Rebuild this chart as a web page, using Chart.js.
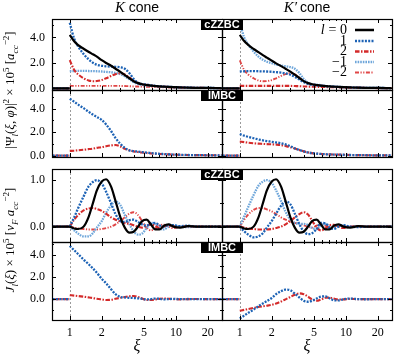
<!DOCTYPE html>
<html>
<head>
<meta charset="utf-8">
<script src="https://cdn.jsdelivr.net/npm/chart.js@4.4.1/dist/chart.umd.min.js"></script>
<style>
  body { margin: 0; background: #fff; }
  #wrap { position: relative; width: 395px; height: 361px; overflow: hidden; font-family: "Liberation Serif", serif; color: #000; }
  #wrap canvas { position: absolute; left: 0; top: 0; }
  .tag { position: absolute; left: 201px; width: 42px; height: 11px; background: #000; color: #fff; z-index: 5;
         font: bold 11px "Liberation Sans", sans-serif; line-height: 11px; text-align: center; }
  .title { position: absolute; top: -1px; width: 170px; text-align: center; font-size: 15px; z-index: 5; }
  .title span { font-family: "Liberation Sans", sans-serif; font-size: 14px; }
  .xlab { position: absolute; top: 337px; width: 170px; text-align: center; font-style: italic; font-size: 16px; z-index: 5; }
  .ylab { position: absolute; height: 18px; line-height: 18px; white-space: nowrap; text-align: center;
          transform: rotate(-90deg); font-size: 13px; z-index: 5; }
  .ylab sub, .ylab sup { font-size: 70%; line-height: 0; }
</style>
</head>
<body>
<div id="wrap">
  <div class="title" style="left:52px"><i>K</i> <span>cone</span></div>
  <div class="title" style="left:222px"><i>K′</i>&thinsp;<span>cone</span></div>
  <div class="tag" style="top:19px">cZZBC</div>
  <div class="tag" style="top:90px">IMBC</div>
  <div class="tag" style="top:169px">cZZBC</div>
  <div class="tag" style="top:242px">IMBC</div>
  <div class="ylab" style="left:-72px; top:81px; width:164px">|Ψ<sub><i>l</i></sub>(<i>ξ</i>, <i>φ</i>)|<sup>2</sup> × 10<sup>5</sup> [<i>a</i><sub><i>cc</i></sub><sup>−2</sup>]</div>
  <div class="ylab" style="left:-72px; top:231px; width:164px"><i>J</i><sub><i>l</i></sub>(<i>ξ</i>) × 10<sup>5</sup> [<i>v<sub>F</sub></i> <i>a</i><sub><i>cc</i></sub><sup>−2</sup>]</div>
  <div class="xlab" style="left:52px">ξ</div>
  <div class="xlab" style="left:222px">ξ</div>
</div>
<script>
// radial coordinate xi (shared grid for every curve)
const XI = [1, 1.1, 1.2, 1.35, 1.5, 1.65, 1.8, 2.0, 2.2, 2.45, 2.7, 3.0, 3.3, 3.65, 4.0, 4.4, 4.8, 5.3, 5.8, 6.4, 7.0, 7.7, 8.5, 9.5, 11, 13, 16, 20, 27];

// |Psi|^2, cZZBC, K cone
const psiZZ_K_l0  = [4.2, 3.7, 3.4, 3.12, 2.88, 2.68, 2.5, 2.22, 2.0, 1.78, 1.55, 1.3, 1.05, 0.8, 0.57, 0.42, 0.33, 0.27, 0.22, 0.19, 0.16, 0.14, 0.12, 0.1, 0.08, 0.06, 0.05, 0.04, 0.03];
const psiZZ_K_l1  = [5.15, 3.9, 3.3, 2.7, 2.3, 2.02, 1.86, 1.78, 1.74, 1.72, 1.7, 1.66, 1.55, 1.2, 0.75, 0.45, 0.35, 0.3, 0.25, 0.2, 0.17, 0.15, 0.13, 0.11, 0.09, 0.07, 0.05, 0.04, 0.03];
const psiZZ_K_l2  = [2.22, 1.45, 1.1, 0.8, 0.63, 0.57, 0.58, 0.66, 0.8, 0.98, 1.12, 1.2, 1.1, 0.85, 0.6, 0.42, 0.33, 0.28, 0.24, 0.2, 0.17, 0.15, 0.12, 0.1, 0.08, 0.06, 0.05, 0.04, 0.03];
const psiZZ_K_lm1 = [1.36, 1.37, 1.38, 1.38, 1.37, 1.36, 1.35, 1.33, 1.3, 1.27, 1.22, 1.12, 0.95, 0.72, 0.5, 0.35, 0.28, 0.24, 0.21, 0.18, 0.16, 0.14, 0.12, 0.1, 0.08, 0.06, 0.05, 0.04, 0.03];
const psiZZ_K_lm2 = [0.2, 0.2, 0.2, 0.2, 0.2, 0.2, 0.2, 0.2, 0.2, 0.2, 0.2, 0.2, 0.19, 0.18, 0.16, 0.15, 0.14, 0.13, 0.12, 0.11, 0.1, 0.09, 0.08, 0.07, 0.06, 0.05, 0.04, 0.03, 0.02];

// |Psi|^2, cZZBC, K' cone
const psiZZ_Kp_l0  = [4.2, 3.72, 3.42, 3.1, 2.85, 2.62, 2.42, 2.18, 1.97, 1.75, 1.55, 1.32, 1.08, 0.82, 0.58, 0.42, 0.33, 0.27, 0.22, 0.19, 0.16, 0.14, 0.12, 0.1, 0.08, 0.06, 0.05, 0.04, 0.03];
const psiZZ_Kp_l1  = [1.34, 1.35, 1.36, 1.36, 1.35, 1.34, 1.33, 1.31, 1.28, 1.24, 1.18, 1.08, 0.92, 0.7, 0.5, 0.35, 0.28, 0.24, 0.21, 0.18, 0.16, 0.14, 0.12, 0.1, 0.08, 0.06, 0.05, 0.04, 0.03];
const psiZZ_Kp_l2  = [0.2, 0.2, 0.2, 0.2, 0.2, 0.2, 0.2, 0.2, 0.2, 0.2, 0.2, 0.2, 0.19, 0.18, 0.16, 0.15, 0.14, 0.13, 0.12, 0.11, 0.1, 0.09, 0.08, 0.07, 0.06, 0.05, 0.04, 0.03, 0.02];
const psiZZ_Kp_lm1 = [5.2, 4.0, 3.45, 2.9, 2.5, 2.25, 2.1, 1.98, 1.88, 1.8, 1.74, 1.68, 1.55, 1.2, 0.75, 0.45, 0.35, 0.3, 0.25, 0.2, 0.17, 0.15, 0.13, 0.11, 0.09, 0.07, 0.05, 0.04, 0.03];
const psiZZ_Kp_lm2 = [2.2, 1.45, 1.1, 0.8, 0.63, 0.57, 0.58, 0.66, 0.8, 0.98, 1.12, 1.2, 1.1, 0.85, 0.6, 0.42, 0.33, 0.28, 0.24, 0.2, 0.17, 0.15, 0.12, 0.1, 0.08, 0.06, 0.05, 0.04, 0.03];

// |Psi|^2, IMBC
const psiIM_K_l1  = [4.85, 4.6, 4.35, 4.05, 3.75, 3.5, 3.3, 3.05, 2.65, 2.1, 1.5, 1.0, 0.65, 0.45, 0.38, 0.34, 0.3, 0.26, 0.22, 0.18, 0.15, 0.13, 0.11, 0.09, 0.07, 0.05, 0.04, 0.03, 0.02];
const psiIM_K_l2  = [0.4, 0.42, 0.45, 0.5, 0.55, 0.6, 0.66, 0.72, 0.8, 0.87, 0.9, 0.78, 0.58, 0.45, 0.36, 0.3, 0.26, 0.22, 0.19, 0.16, 0.14, 0.12, 0.1, 0.08, 0.06, 0.05, 0.04, 0.03, 0.02];
const psiIM_Kp_l1 = [1.84, 1.7, 1.6, 1.48, 1.38, 1.3, 1.24, 1.18, 1.12, 1.06, 0.95, 0.8, 0.62, 0.48, 0.36, 0.27, 0.21, 0.17, 0.14, 0.12, 0.1, 0.09, 0.08, 0.07, 0.05, 0.04, 0.03, 0.02, 0.02];
const psiIM_Kp_l2 = [1.2, 1.15, 1.1, 1.05, 1.02, 1.0, 0.98, 0.96, 0.94, 0.9, 0.82, 0.72, 0.6, 0.48, 0.36, 0.27, 0.21, 0.17, 0.14, 0.12, 0.1, 0.09, 0.08, 0.07, 0.05, 0.04, 0.03, 0.02, 0.02];

// current J, cZZBC, K cone
const jZZ_K_l0  = [0, -0.04, -0.05, 0.0, 0.2, 0.5, 0.78, 0.97, 1.02, 0.86, 0.55, 0.2, -0.02, -0.13, -0.11, 0.0, 0.12, 0.15, 0.05, -0.06, -0.06, 0.02, 0.05, 0.0, -0.02, 0.01, 0, 0, 0];
const jZZ_K_l1  = [0, 0.2, 0.4, 0.65, 0.86, 0.96, 1.0, 0.93, 0.75, 0.5, 0.27, 0.12, 0.1, 0.14, 0.15, 0.1, 0.05, 0.02, 0.06, 0.08, 0.03, 0.0, 0.04, 0.03, 0.01, 0.02, 0, 0, 0];
const jZZ_K_l2  = [0, 0.15, 0.25, 0.35, 0.39, 0.4, 0.38, 0.34, 0.28, 0.2, 0.15, 0.11, 0.08, 0.06, 0.03, 0.0, -0.02, 0.02, 0.05, 0.02, -0.03, 0.0, 0.03, 0.01, -0.01, 0.01, 0, 0, 0];
const jZZ_K_lm1 = [0, -0.08, -0.15, -0.21, -0.21, -0.14, -0.02, 0.12, 0.3, 0.46, 0.54, 0.46, 0.25, 0.05, -0.1, -0.17, -0.15, -0.03, 0.08, 0.06, -0.04, -0.06, 0.0, 0.03, 0.0, -0.01, 0, 0, 0];
const jZZ_K_lm2 = [0, -0.02, -0.04, -0.05, -0.06, -0.06, -0.06, -0.05, -0.03, 0.0, 0.05, 0.12, 0.2, 0.28, 0.31, 0.25, 0.12, -0.02, -0.08, -0.04, 0.03, 0.04, 0.0, -0.03, 0.0, 0.01, 0, 0, 0];

// current J, cZZBC, K' cone
const jZZ_Kp_l0  = [0, -0.04, -0.05, 0.0, 0.2, 0.5, 0.78, 0.97, 1.02, 0.86, 0.55, 0.2, -0.02, -0.13, -0.11, 0.0, 0.12, 0.15, 0.05, -0.06, -0.06, 0.02, 0.05, 0.0, -0.02, 0.01, 0, 0, 0];
const jZZ_Kp_l1  = [0, -0.1, -0.17, -0.23, -0.21, -0.14, -0.02, 0.12, 0.28, 0.45, 0.54, 0.48, 0.28, 0.05, -0.1, -0.16, -0.14, -0.05, 0.08, 0.07, -0.02, -0.05, 0.0, 0.03, 0.0, -0.01, 0, 0, 0];
const jZZ_Kp_l2  = [0, -0.02, -0.04, -0.05, -0.06, -0.06, -0.06, -0.05, -0.03, 0.0, 0.05, 0.12, 0.2, 0.27, 0.31, 0.26, 0.13, -0.02, -0.08, -0.04, 0.03, 0.04, 0.0, -0.03, 0.0, 0.01, 0, 0, 0];
const jZZ_Kp_lm1 = [0, 0.22, 0.42, 0.68, 0.88, 0.97, 1.0, 0.94, 0.78, 0.55, 0.32, 0.15, 0.08, 0.06, 0.06, 0.03, -0.03, -0.05, 0.02, 0.06, 0.02, -0.02, 0.02, 0.02, 0.0, 0.01, 0, 0, 0];
const jZZ_Kp_lm2 = [0, 0.15, 0.26, 0.36, 0.4, 0.4, 0.37, 0.33, 0.27, 0.2, 0.15, 0.11, 0.08, 0.06, 0.03, 0.0, -0.02, 0.02, 0.05, 0.02, -0.03, 0.0, 0.03, 0.01, -0.01, 0.01, 0, 0, 0];

// current J, IMBC
const jIM_K_l1  = [4.85, 4.45, 4.1, 3.6, 3.2, 2.8, 2.4, 1.85, 1.45, 0.9, 0.45, 0.2, 0.15, 0.12, 0.1, 0.07, 0.03, -0.03, 0.0, 0.05, 0.03, -0.02, 0.0, 0.02, 0.0, 0.01, 0, 0, 0];
const jIM_K_l2  = [0.36, 0.32, 0.28, 0.22, 0.16, 0.1, 0.03, -0.03, -0.08, -0.06, 0.03, 0.12, 0.2, 0.26, 0.28, 0.2, 0.05, -0.08, -0.08, -0.03, 0.02, 0.06, 0.04, 0.0, -0.02, 0.0, 0.01, 0, 0];
const jIM_Kp_l1 = [-1.76, -1.5, -1.25, -0.95, -0.65, -0.4, -0.18, 0.1, 0.45, 0.72, 0.87, 0.8, 0.5, 0.15, -0.15, -0.24, -0.15, 0.06, 0.22, 0.25, 0.08, -0.1, -0.12, 0.0, 0.05, 0.0, -0.01, 0, 0];
const jIM_Kp_l2 = [-1.06, -0.98, -0.9, -0.8, -0.72, -0.65, -0.6, -0.52, -0.4, -0.22, -0.02, 0.2, 0.4, 0.52, 0.45, 0.22, -0.02, -0.15, -0.05, 0.12, 0.14, 0.05, -0.03, -0.02, 0.02, 0.0, 0, 0, 0];

// axis ticks
const X_LABELS = [1, 2, 5, 10, 20];
const X_MARKS = [1, 2, 3, 4, 5, 6, 7, 8, 9, 10, 20];
const PSI_TICKS = [0, 1, 2, 3, 4, 5];
const PSI_LABELS = [0, 2, 4];
const JZZ_TICKS = [0, 0.5, 1];
const JZZ_LABELS = [0, 1];
const JIM_TICKS = [-1, 0, 1, 2, 3, 4, 5];
const JIM_LABELS = [0, 2, 4];

const LEGEND_LABELS = ['= 0', '1', '2', '−1', '−2'];

const W = 395, H = 361;
const SERIF = '"Liberation Serif", serif';
const XMIN = 0.68, XMAX = 27.2;

const STYLE = {
  l0:  { label: '0',  color: '#000000', dash: [], width: 2.2 },
  l1:  { label: '1',  color: '#1c62b5', dash: [2, 1.3], width: 2.3 },
  l2:  { label: '2',  color: '#d42a2a', dash: [4.5, 1.5, 1.5, 1.5], width: 2.1 },
  lm1: { label: '-1', color: '#6ea6da', dash: [1.6, 1], width: 2.3 },
  lm2: { label: '-2', color: '#e04646', dash: [4, 1.5, 1.2, 1.5, 1.2, 1.5], width: 1.9 },
};

const COLS = [{ l: 52, r: 222 }, { l: 222, r: 392 }];
const ROWS = [
  { t: 19,  b: 90,  min: -0.12, max: 5.45, ticks: PSI_TICKS, labels: PSI_LABELS },
  { t: 90,  b: 157, min: -0.12, max: 5.6,  ticks: PSI_TICKS, labels: PSI_LABELS },
  { t: 169, b: 242, min: -0.33, max: 1.24, ticks: JZZ_TICKS, labels: JZZ_LABELS },
  { t: 242, b: 320, min: -1.9,  max: 5.2,  ticks: JIM_TICKS, labels: JIM_LABELS },
];

function makeSet(key, vals) {
  const s = STYLE[key];
  // zero inside the hole (xi < 1), then a break before the curve starts
  const pts = [{ x: 0.6, y: 0 }, { x: 0.999, y: 0 }, { x: 0.9995, y: null }]
    .concat(XI.map((x, i) => ({ x: x, y: vals[i] })));
  return {
    label: s.label, data: pts, borderColor: s.color, borderDash: s.dash, borderWidth: s.width,
    fill: false, pointRadius: 0, clip: 0, spanGaps: false, cubicInterpolationMode: 'monotone'
  };
}

// frame, inward ticks, dashed line at xi = 1
const framePlugin = {
  id: 'frame',
  beforeDatasetsDraw(chart) {
    const { ctx, chartArea: a, scales: { x } } = chart;
    const px = Math.round(x.getPixelForValue(1)) + 0.5;
    ctx.save();
    ctx.strokeStyle = '#9a9a9a';
    ctx.lineWidth = 1;
    ctx.setLineDash([2, 2]);
    ctx.beginPath(); ctx.moveTo(px, a.top); ctx.lineTo(px, a.bottom); ctx.stroke();
    ctx.restore();
  },
  afterDatasetsDraw(chart, args, opts) {
    const { ctx, chartArea: a, scales: { x, y } } = chart;
    ctx.save();
    ctx.strokeStyle = '#000';
    ctx.lineWidth = 1;
    ctx.beginPath();
    X_MARKS.forEach(v => {
      const px = Math.round(x.getPixelForValue(v)) + 0.5;
      const len = X_LABELS.includes(v) ? 4 : 2;
      ctx.moveTo(px, a.top); ctx.lineTo(px, a.top + len);
      ctx.moveTo(px, a.bottom); ctx.lineTo(px, a.bottom - len);
    });
    opts.ticks.forEach(v => {
      const py = Math.round(y.getPixelForValue(v)) + 0.5;
      const len = opts.labels.includes(v) ? 4 : 2;
      ctx.moveTo(a.left, py); ctx.lineTo(a.left + len, py);
      ctx.moveTo(a.right, py); ctx.lineTo(a.right - len, py);
    });
    ctx.stroke();
    ctx.lineWidth = 1.2;
    ctx.strokeRect(a.left + 0.5, a.top + 0.5, a.right - a.left, a.bottom - a.top);
    ctx.restore();
  }
};

// legend drawn inside the top-right panel
const legendPlugin = {
  id: 'lgd',
  afterDraw(chart) {
    const ctx = chart.ctx;
    const rowsY = [30, 41, 51.5, 62, 72.5];
    ctx.save();
    chart.data.datasets.forEach((ds, i) => {
      const yy = rowsY[i];
      ctx.strokeStyle = ds.borderColor;
      ctx.lineWidth = ds.borderWidth + 0.3;
      ctx.setLineDash(ds.borderDash);
      ctx.beginPath(); ctx.moveTo(355, yy); ctx.lineTo(374, yy); ctx.stroke();
      ctx.setLineDash([]);
      ctx.fillStyle = '#000';
      ctx.textAlign = 'right';
      ctx.textBaseline = 'middle';
      ctx.font = '14px ' + SERIF;
      ctx.fillText(LEGEND_LABELS[i], 347, yy);
      if (i === 0) {
        const w = ctx.measureText(LEGEND_LABELS[i]).width;
        ctx.font = 'italic 14px ' + SERIF;
        ctx.fillText('l', 347 - w - 4, yy);
      }
    });
    ctx.restore();
  }
};

function makePanel(row, col, series, withLegend) {
  const R = ROWS[row], C = COLS[col];
  const showY = col === 0, showX = row === 3;
  const cv = document.createElement('canvas');
  cv.width = W; cv.height = H;
  document.getElementById('wrap').appendChild(cv);
  const plugins = [framePlugin];
  if (withLegend) plugins.push(legendPlugin);
  new Chart(cv, {
    type: 'line',
    data: { datasets: series.map(([k, vals]) => makeSet(k, vals)) },
    options: {
      responsive: false,
      animation: false,
      events: [],
      layout: { padding: { left: showY ? 0 : C.l, right: W - C.r, top: R.t, bottom: showX ? 0 : H - R.b } },
      plugins: {
        legend: { display: false },
        tooltip: { enabled: false },
        frame: { ticks: R.ticks, labels: R.labels }
      },
      scales: {
        x: {
          type: 'logarithmic', min: XMIN, max: XMAX, display: showX,
          grid: { display: false, drawTicks: false }, border: { display: false },
          afterFit: s => { s.height = showX ? H - R.b : 0; },
          afterBuildTicks: s => { s.ticks = X_LABELS.map(v => ({ value: v })); },
          ticks: { autoSkip: false, maxRotation: 0, padding: 6, color: '#000',
                   font: { family: SERIF, size: 12 }, callback: v => String(v) }
        },
        y: {
          type: 'linear', min: R.min, max: R.max, display: showY,
          grid: { display: false, drawTicks: false }, border: { display: false },
          afterFit: s => { s.width = showY ? C.l : 0; },
          afterBuildTicks: s => { s.ticks = R.labels.map(v => ({ value: v })); },
          ticks: { padding: 7, color: '#000', font: { family: SERIF, size: 12 },
                   callback: v => Number(v).toFixed(1) }
        }
      }
    },
    plugins: plugins
  });
}

makePanel(0, 0, [['l0', psiZZ_K_l0], ['l1', psiZZ_K_l1], ['l2', psiZZ_K_l2], ['lm1', psiZZ_K_lm1], ['lm2', psiZZ_K_lm2]]);
makePanel(0, 1, [['l0', psiZZ_Kp_l0], ['l1', psiZZ_Kp_l1], ['l2', psiZZ_Kp_l2], ['lm1', psiZZ_Kp_lm1], ['lm2', psiZZ_Kp_lm2]], true);
makePanel(1, 0, [['l1', psiIM_K_l1], ['l2', psiIM_K_l2]]);
makePanel(1, 1, [['l1', psiIM_Kp_l1], ['l2', psiIM_Kp_l2]]);
makePanel(2, 0, [['l0', jZZ_K_l0], ['l1', jZZ_K_l1], ['l2', jZZ_K_l2], ['lm1', jZZ_K_lm1], ['lm2', jZZ_K_lm2]]);
makePanel(2, 1, [['l0', jZZ_Kp_l0], ['l1', jZZ_Kp_l1], ['l2', jZZ_Kp_l2], ['lm1', jZZ_Kp_lm1], ['lm2', jZZ_Kp_lm2]]);
makePanel(3, 0, [['l1', jIM_K_l1], ['l2', jIM_K_l2]]);
makePanel(3, 1, [['l1', jIM_Kp_l1], ['l2', jIM_Kp_l2]]);
</script>
</body>
</html>
